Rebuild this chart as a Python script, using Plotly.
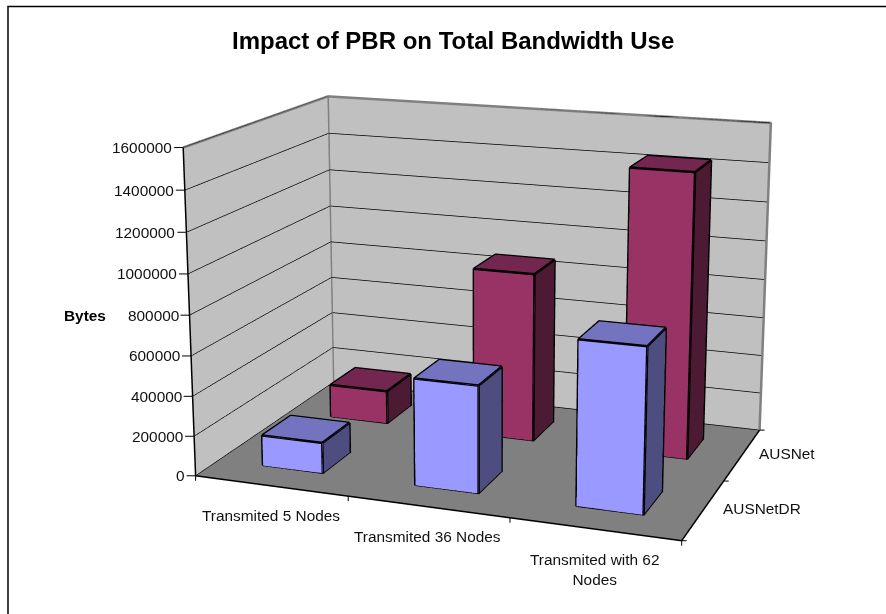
import plotly.graph_objects as go

categories = ["Transmited 5 Nodes", "Transmited 36 Nodes", "Transmited with 62<br>Nodes"]
series_names = ["AUSNetDR", "AUSNet"]
ausnetdr = [155000, 530000, 800000]
ausnet = [175000, 870000, 1440000]
z_ticks = [0, 200000, 400000, 600000, 800000, 1000000, 1200000, 1400000, 1600000]
title_text = "Impact of PBR on Total Bandwidth Use"
z_title = "Bytes"

# The reference is a long-lens 3D view; plotly's field of view is fixed, so the scene
# is laid out larger than the window and positioned so its centre is at the lens centre.
FW, FH = 1400, 1610
LEFT, TOP = -207, -535
xp = lambda x: (x - LEFT) / FW
yp = lambda y: 1 - (y - TOP) / FH

fig = go.Figure()

def bars(vals, j, fc, tc, sc):
    for i, v in enumerate(vals):
        x0, x1 = i + .3, i + .7
        y0, y1 = j + .3, j + .7
        fig.add_trace(go.Mesh3d(
            x=[x0, x1, x1, x0, x0, x1, x1, x0],
            y=[y0, y0, y1, y1, y0, y0, y1, y1],
            z=[0, 0, 0, 0, v, v, v, v],
            i=[0, 0, 4, 4, 1, 1], j=[1, 5, 5, 6, 2, 6], k=[5, 4, 6, 7, 6, 5],
            facecolor=[fc, fc, tc, tc, sc, sc], flatshading=True,
            lighting=dict(ambient=1, diffuse=0, specular=0, fresnel=0, roughness=1), hoverinfo="skip"))
        fig.add_trace(go.Scatter3d(
            x=[x0, x1, x1, x0, x0, None, x0, x0, x1, x1, None, x1, x1, x1],
            y=[y0, y0, y0, y0, y0, None, y0, y1, y1, y0, None, y1, y1, y0],
            z=[0, 0, v, v, 0, None, v, v, v, v, None, v, 0, 0],
            mode="lines", line=dict(color="black", width=5), hoverinfo="skip"))

bars(ausnet, 1, "#993366", "#732650", "#4D1A33")
bars(ausnetdr, 0, "#9999FF", "#7373BF", "#4D4D80")

top = z_ticks[-1]
# wall borders (grey) and axis edges (black)
fig.add_trace(go.Scatter3d(x=[0, 0, 3, 3], y=[0, 2, 2, 2], z=[top, top, top, 0], mode="lines",
                           line=dict(color="#808080", width=5), hoverinfo="skip"))
fig.add_trace(go.Scatter3d(x=[0, 0], y=[2, 2], z=[0, top], mode="lines",
                           line=dict(color="#808080", width=5), hoverinfo="skip"))
fig.add_trace(go.Scatter3d(x=[0, 0, 3, 3], y=[0, 0, 0, 2], z=[top, 0, 0, 0], mode="lines",
                           line=dict(color="black", width=3), hoverinfo="skip"))

lab = dict(family="Liberation Sans", size=15.4, color="#111111")
tick = dict(showarrow=True, arrowhead=0, arrowwidth=1, arrowcolor="black")
dot = dict(family="Liberation Sans", size=1, color="black")
sa = []
for v in z_ticks:
    sa.append(dict(tick, x=0, y=0, z=v, text=str(v), ax=-9, ay=0, xanchor="right", font=lab))
for i in range(len(categories) + 1):
    sa.append(dict(tick, x=i, y=0, z=0, text=".", ax=0, ay=7, font=dot))
for j in range(len(series_names) + 1):
    sa.append(dict(tick, x=3, y=j, z=0, text=".", ax=7, ay=0, font=dot))
for i, t in enumerate(categories):
    sa.append(dict(x=i + .5, y=0, z=0, text=t, showarrow=False, yshift=-40 if "<br>" in t else -30, font=lab))
sa.append(dict(x=3, y=.5, z=0, text=series_names[0], showarrow=False, xshift=58, yshift=1, font=lab))
sa.append(dict(x=3, y=1.5, z=0, text=series_names[1], showarrow=False, xshift=45, yshift=1, font=lab))

ax = dict(showticklabels=False, showspikes=False, title="", zeroline=False, showgrid=False, ticks="",
          showline=False)
fig.update_layout(
    width=FW, height=FH, margin=dict(l=0, r=0, t=0, b=0), paper_bgcolor="white", showlegend=False,
    shapes=[dict(type="path", xref="paper", yref="paper",
                 path="M %f,%f L %f,%f L %f,%f" % (xp(8), yp(614), xp(8), yp(6.5), xp(886), yp(6.5)),
                 line=dict(color="black", width=1.5))],
    annotations=[
        dict(text="<b>%s</b>" % title_text, x=xp(453), y=yp(40), xref="paper", yref="paper", showarrow=False,
             xanchor="center", yanchor="middle", font=dict(family="Liberation Sans", size=24, color="black")),
        dict(text="<b>%s</b>" % z_title, x=xp(84.5), y=yp(315), xref="paper", yref="paper", showarrow=False,
             xanchor="center", yanchor="middle", font=dict(family="Liberation Sans", size=15.4, color="black"))],
    scene=dict(
        domain=dict(x=[0, 1], y=[0, 1]), aspectmode="manual", aspectratio=dict(x=1.4992, y=0.9993, z=1.0),
        annotations=sa,
        camera=dict(eye=dict(x=1.9535, y=-5.3755, z=1.5209), center=dict(x=-0.0127, y=0.0842, z=0.0627),
                    up=dict(x=-0.0841, y=0.2287, z=0.9698)),
        xaxis=dict(ax, range=[0, 3], showbackground=True, backgroundcolor="#C0C0C0", tickvals=[1, 2, 3]),
        yaxis=dict(ax, range=[0, 2], showbackground=True, backgroundcolor="#C0C0C0", tickvals=[1, 2]),
        zaxis=dict(ax, range=[0, 1601000], showbackground=True, backgroundcolor="#808080", tickvals=z_ticks,
                   showgrid=True, gridcolor="black", gridwidth=1.5)))

fig.write_html("out.html", config=dict(displayModeBar=False),
    post_script="document.documentElement.style.overflow='hidden';document.body.style.overflow='hidden';"
                "document.body.style.margin='0';var g=document.getElementById('{plot_id}');"
                "g.style.position='absolute';g.style.left='%dpx';g.style.top='%dpx';" % (LEFT, TOP))
